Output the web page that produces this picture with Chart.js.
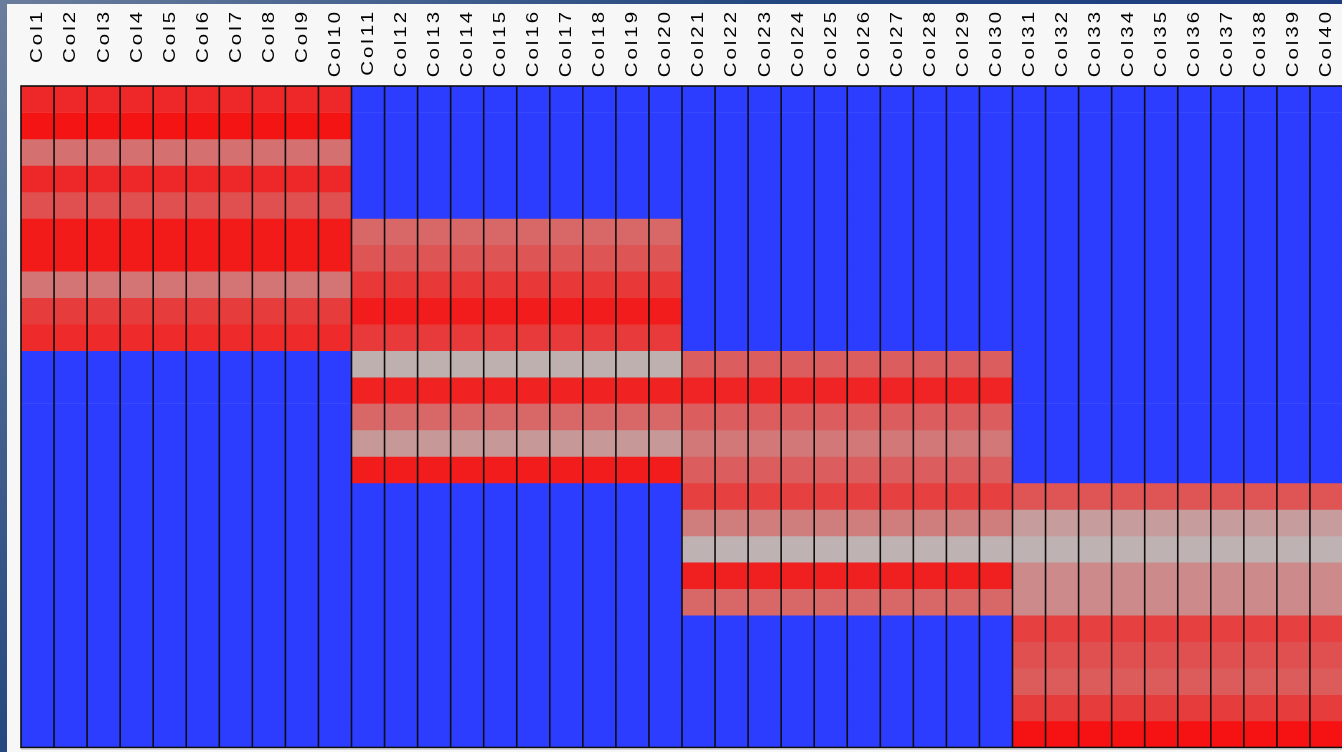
<!DOCTYPE html>
<html>
<head>
<meta charset="utf-8">
<title>Heatmap</title>
<script src="https://cdn.jsdelivr.net/npm/chart.js@4/dist/chart.umd.min.js"></script>
<style>
  html, body { margin: 0; padding: 0; width: 1342px; height: 752px; overflow: hidden; }
  body {
    position: relative;
    background: radial-gradient(circle at 0 0, #6b7d9c 0px, #3f5d8c 450px, #23477f 760px, #1e3d80 1342px);
  }
  #panel { position: absolute; left: 7px; top: 4px; width: 1400px; height: 800px; background: #f7f7f7; }
  #heat { position: absolute; left: 0; top: 0; }
</style>
</head>
<body>
<div id="panel"></div>
<canvas id="heat" width="1360" height="752"></canvas>
<script>
// column labels
const columns = ["Col1", "Col2", "Col3", "Col4", "Col5", "Col6", "Col7", "Col8", "Col9", "Col10",
  "Col11", "Col12", "Col13", "Col14", "Col15", "Col16", "Col17", "Col18", "Col19", "Col20",
  "Col21", "Col22", "Col23", "Col24", "Col25", "Col26", "Col27", "Col28", "Col29", "Col30",
  "Col31", "Col32", "Col33", "Col34", "Col35", "Col36", "Col37", "Col38", "Col39", "Col40"];
const rowCount = 25;

// values of the four blocks (0 = grey, 1 = full red), one per row of the block
const block1 = [0.86, 0.99, 0.41, 0.86, 0.61, 0.95, 0.95, 0.38, 0.74, 0.85];  // Col1-10, rows 1-10
const block2 = [0.46, 0.58, 0.76, 0.94, 0.75, 0.01, 0.90, 0.46, 0.16, 0.94];  // Col11-20, rows 6-15
const block3 = [0.53, 0.89, 0.53, 0.36, 0.53, 0.71, 0.33, 0.00, 0.91, 0.46];  // Col21-30, rows 11-20
const block4 = [0.59, 0.14, 0.00, 0.25, 0.25, 0.71, 0.61, 0.54, 0.74, 1.00];  // Col31-40, rows 16-25
const blocks = [block1, block2, block3, block4];

const BLUE = "#2c3dff";

// cell value, null where the cell is outside its block (blue)
function cellValue(r, c) {
    const b = Math.floor(c / 10);
    const k = r - b * 5;
    if (k < 0 || k >= blocks[b].length) return null;
    return blocks[b][k];
}

function cellColor(v) {
    if (v === null) return BLUE;
    const red = Math.round(190 + 56 * v);
    const gb = Math.round(178 - 160 * v);
    return "rgb(" + red + "," + gb + "," + gb + ")";
}

let datasets = [];
for (let r = 0; r < rowCount; r++) {
    datasets.push({
        label: "Row" + (r + 1),
        data: columns.map(() => 1),
        backgroundColor: columns.map((_, c) => cellColor(cellValue(r, c))),
        borderWidth: 0,
        barPercentage: 1,
        categoryPercentage: 1
    });
}

// column separators, frame and rotated column labels
const heatFrame = {
    id: "heatFrame",
    afterDatasetsDraw(chart) {
        const ctx = chart.ctx;
        const area = chart.chartArea;
        const x = chart.scales.x;
        ctx.save();
        ctx.strokeStyle = "#0e0e0e";
        ctx.lineWidth = 1.6;
        ctx.beginPath();
        for (let i = 1; i < columns.length; i++) {
            const px = (x.getPixelForValue(i - 1) + x.getPixelForValue(i)) / 2;
            ctx.moveTo(px, area.top);
            ctx.lineTo(px, area.bottom);
        }
        ctx.stroke();
        ctx.strokeRect(area.left, area.top, area.right - area.left, area.bottom - area.top);
        ctx.strokeStyle = "#b8b8b8";
        ctx.lineWidth = 1;
        ctx.beginPath();
        ctx.moveTo(area.left, area.bottom + 1.5);
        ctx.lineTo(area.right, area.bottom + 1.5);
        ctx.stroke();

        ctx.fillStyle = "#000";
        ctx.font = '16px "Liberation Sans", Arial, sans-serif';
        ctx.letterSpacing = "2.3px";
        ctx.textAlign = "right";
        ctx.textBaseline = "middle";
        columns.forEach((lab, i) => {
            ctx.save();
            ctx.translate(x.getPixelForValue(i) + 0.5, 9);
            ctx.rotate(-Math.PI / 2);
            ctx.scale(1.28, 1);
            ctx.fillText(lab, 0, 0);
            ctx.restore();
        });
        ctx.restore();
    }
};

new Chart(document.getElementById("heat"), {
    type: "bar",
    data: { labels: columns, datasets: datasets },
    options: {
        responsive: false,
        animation: false,
        devicePixelRatio: 1,
        layout: { padding: { left: 21, top: 86, right: 17, bottom: 4.5 } },
        plugins: { legend: { display: false }, tooltip: { enabled: false } },
        scales: {
            x: { display: false, stacked: true },
            y: { display: false, stacked: true, reverse: true, min: 0, max: rowCount }
        }
    },
    plugins: [heatFrame]
});
</script>
</body>
</html>
